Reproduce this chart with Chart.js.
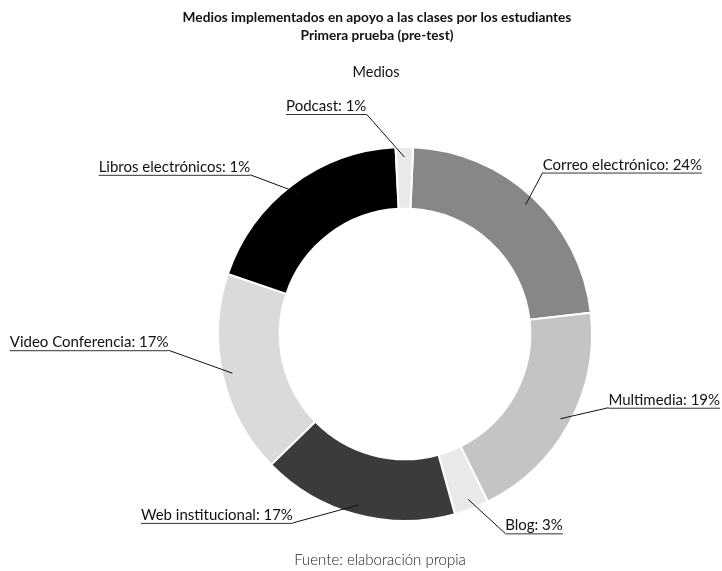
<!DOCTYPE html>
<html>
<head>
<meta charset="utf-8">
<script src="https://cdn.jsdelivr.net/npm/chart.js@4"></script>
<style>
  html, body { margin: 0; padding: 0; background: #fff; }
</style>
</head>
<body>
<canvas id="mediosChart" width="722" height="571"></canvas>
<script>
// slices, clockwise from the top
const categories = ["Correo electrónico", "Multimedia", "Blog", "Web institucional", "Video Conferencia", "Libros electrónicos", "Podcast"];
// slice sizes as drawn in the picture
const shares = [22.5, 19.5, 3, 17, 17.5, 19, 1.5];
// percentages printed on the labels
const shownPercents = [24, 19, 3, 17, 17, 1, 1];

const sliceColors = ["#878787", "#c4c4c4", "#e9e9e9", "#3b3b3b", "#dadada", "#000000", "#e9e9e9"];
// where each label's elbow sits, relative to the point on the ring
const labelOffsets = [[17, -32], [48, -11], [37, 34], [-66, 18], [-64, -23], [-48, -18], [-38, -43]];

const FONT = "Lato, 'Open Sans', sans-serif";

const headings = {
    id: "headings",
    afterDraw(chart) {
        const ctx = chart.ctx;
        ctx.save();
        ctx.fillStyle = "#111";
        ctx.textAlign = "center";
        ctx.textBaseline = "alphabetic";
        ctx.font = "bold 13.7px " + FONT;
        ctx.fillText("Medios implementados en apoyo a las clases por los estudiantes", 377, 22);
        ctx.fillText("Primera prueba (pre-test)", 377, 40);
        ctx.font = "14.5px " + FONT;
        ctx.fillText("Medios", 376, 77);
        ctx.fillStyle = "#222";
        ctx.font = "300 15px " + FONT;
        ctx.fillText("Fuente: elaboración propia", 380, 565);
        ctx.restore();
    }
};

const leaderLabels = {
    id: "leaderLabels",
    afterDatasetsDraw(chart) {
        const ctx = chart.ctx;
        const arcs = chart.getDatasetMeta(0).data;
        ctx.save();
        ctx.font = "15px " + FONT;
        ctx.textBaseline = "alphabetic";
        arcs.forEach(function (arc, i) {
            const p = arc.getProps(["x", "y", "startAngle", "endAngle", "outerRadius"], true);
            const mid = (p.startAngle + p.endAngle) / 2;
            const r = p.outerRadius - 10;
            const ax = p.x + Math.cos(mid) * r;
            const ay = p.y + Math.sin(mid) * r;
            const ex = ax + labelOffsets[i][0];
            const ey = ay + labelOffsets[i][1];
            const text = categories[i] + ": " + shownPercents[i] + "%";
            const w = ctx.measureText(text).width;
            const x0 = labelOffsets[i][0] > 0 ? ex : ex - w;

            ctx.strokeStyle = "#111";
            ctx.lineWidth = 1;
            ctx.beginPath();
            ctx.moveTo(ax, ay);
            ctx.lineTo(ex, ey);
            ctx.stroke();

            ctx.strokeStyle = "#333";
            ctx.beginPath();
            ctx.moveTo(x0, ey + 0.5);
            ctx.lineTo(x0 + w, ey + 0.5);
            ctx.stroke();

            ctx.fillStyle = "#111";
            ctx.fillText(text, x0, ey - 3);
        });
        ctx.restore();
    }
};

new Chart(document.getElementById("mediosChart"), {
    type: "doughnut",
    data: {
        labels: categories,
        datasets: [{
            data: shares,
            backgroundColor: sliceColors,
            borderColor: "#ffffff",
            borderWidth: 2
        }]
    },
    options: {
        responsive: false,
        animation: false,
        cutout: "67%",
        rotation: 2.5,
        layout: { padding: { left: 217, top: 146, right: 129, bottom: 49 } },
        plugins: {
            legend: { display: false },
            tooltip: { enabled: false }
        }
    },
    plugins: [headings, leaderLabels]
});
</script>
</body>
</html>
